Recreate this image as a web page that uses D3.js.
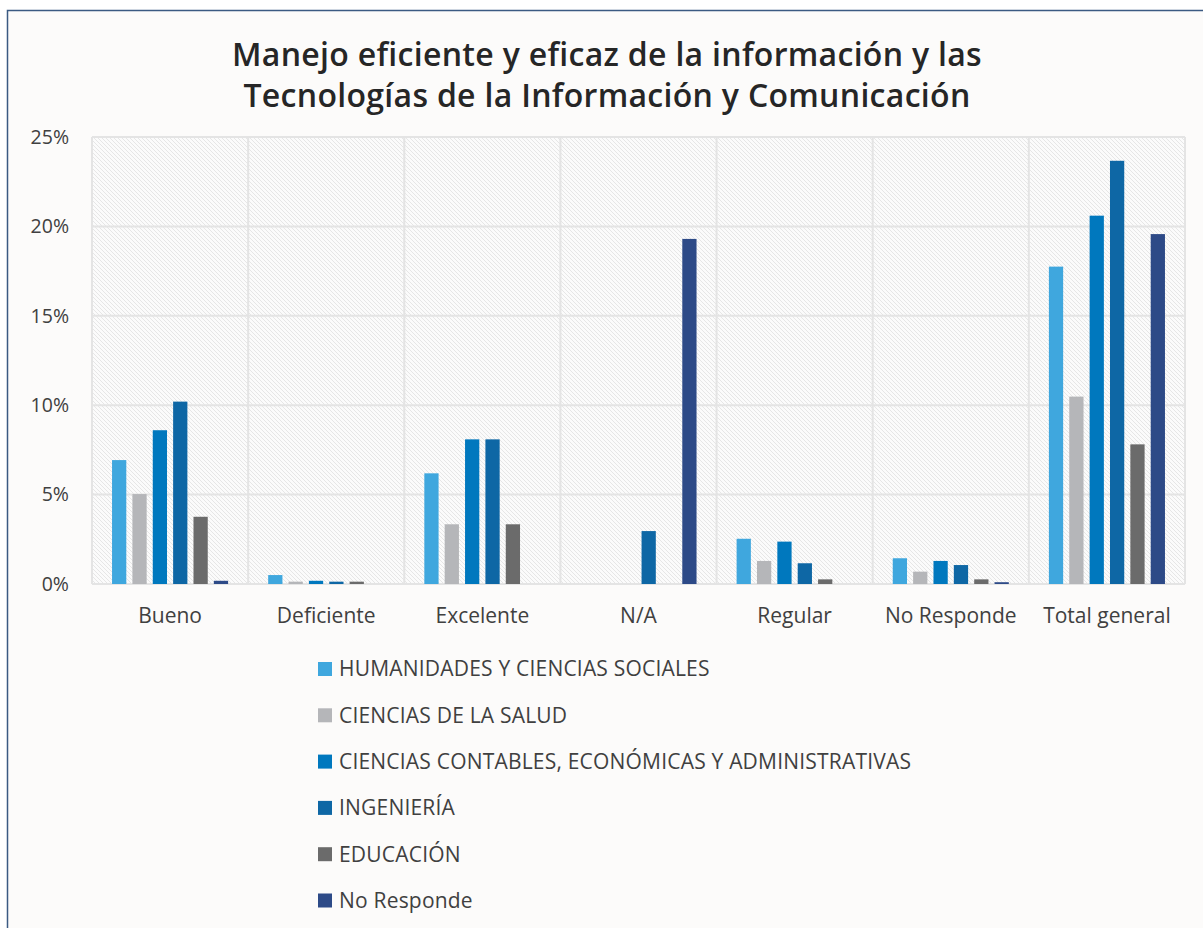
<!DOCTYPE html>
<html>
<head>
<meta charset="utf-8">
<script src="https://cdn.jsdelivr.net/npm/d3@7"></script>
<style>
  body { margin: 0; background: #ffffff; }
  svg { display: block; }
</style>
</head>
<body>
<div id="chart"></div>
<script>
// Chart data
const categories = ["Bueno", "Deficiente", "Excelente", "N/A", "Regular", "No Responde", "Total general"];
const seriesNames = [
  "HUMANIDADES Y CIENCIAS SOCIALES",
  "CIENCIAS DE LA SALUD",
  "CIENCIAS CONTABLES, ECONÓMICAS Y ADMINISTRATIVAS",
  "INGENIERÍA",
  "EDUCACIÓN",
  "No Responde"
];
// values in percent, one array per series, ordered like categories (null = no bar)
const humanidades = [6.93, 0.50, 6.19, null, 2.53, 1.44, 17.75];
const salud       = [5.03, 0.13, 3.34, null, 1.29, 0.69, 10.48];
const contables   = [8.60, 0.18, 8.09, null, 2.37, 1.29, 20.60];
const ingenieria  = [10.2, 0.13, 8.09, 2.96, 1.16, 1.06, 23.67];
const educacion   = [3.76, 0.13, 3.34, null, 0.26, 0.26, 7.81];
const noResponde  = [0.18, null, null, 19.3, null, 0.10, 19.57];
const yTicks = [0, 5, 10, 15, 20, 25];
const titleLines = [
  "Manejo eficiente y eficaz de la información y las",
  "Tecnologías de la Información y Comunicación"
];

const seriesValues = [humanidades, salud, contables, ingenieria, educacion, noResponde];
const colors = ["#3fa7de", "#b5b6b9", "#0078be", "#0e67a5", "#6b6b6b", "#2d4a87"];

const W = 1203, H = 928;
const plot = { left: 92, right: 1185, top: 137, bottom: 584 };
const font = "'Open Sans', 'Noto Sans', sans-serif";

const svg = d3.select("#chart").append("svg")
  .attr("width", W)
  .attr("height", H);

// Hatch pattern for the plot area
const defs = svg.append("defs");
const pat = defs.append("pattern")
  .attr("id", "hatch")
  .attr("patternUnits", "userSpaceOnUse")
  .attr("width", 4)
  .attr("height", 4);
pat.append("rect").attr("width", 4).attr("height", 4).attr("fill", "#fbfbfb");
pat.append("path")
  .attr("d", "M-1,-1 L5,5 M-1,3 L1,5 M3,-1 L5,1")
  .attr("stroke", "#e6e6e6")
  .attr("stroke-width", 1);

// Chart background and frame
svg.append("rect")
  .attr("x", 0).attr("y", 0).attr("width", W).attr("height", H)
  .attr("fill", "#ffffff");
svg.append("rect")
  .attr("x", 7.5).attr("y", 10.5).attr("width", W).attr("height", H)
  .attr("fill", "#fcfbfa")
  .attr("stroke", "#3b5a82")
  .attr("stroke-width", 1.5);

// Scales
const x0 = d3.scaleBand()
  .domain(categories)
  .range([plot.left, plot.right])
  .padding(0);

const x1 = d3.scaleBand()
  .domain(d3.range(seriesNames.length))
  .range([18, x0.bandwidth() - 18])
  .paddingInner(0.3)
  .paddingOuter(0.1);

const y = d3.scaleLinear()
  .domain([0, 25])
  .range([plot.bottom, plot.top]);

// Plot area
svg.append("rect")
  .attr("x", plot.left).attr("y", plot.top)
  .attr("width", plot.right - plot.left)
  .attr("height", plot.bottom - plot.top)
  .attr("fill", "url(#hatch)");

// Horizontal gridlines
svg.append("g")
  .selectAll("line")
  .data(yTicks)
  .enter()
  .append("line")
  .attr("x1", plot.left).attr("x2", plot.right)
  .attr("y1", d => y(d)).attr("y2", d => y(d))
  .attr("stroke", "#e4e4e4")
  .attr("stroke-width", 2);

// Vertical gridlines at category boundaries
svg.append("g")
  .selectAll("line")
  .data(categories.map(c => x0(c)).concat([plot.right]))
  .enter()
  .append("line")
  .attr("x1", d => d).attr("x2", d => d)
  .attr("y1", plot.top).attr("y2", plot.bottom)
  .attr("stroke", "#e4e4e4")
  .attr("stroke-width", 2);

// Bars
const groups = svg.append("g")
  .selectAll("g")
  .data(categories)
  .enter()
  .append("g")
  .attr("transform", c => `translate(${x0(c)},0)`);

groups.selectAll("rect")
  .data((c, ci) => seriesValues.map((vals, si) => ({ si, v: vals[ci] })).filter(d => d.v != null))
  .enter()
  .append("rect")
  .attr("x", d => x1(d.si))
  .attr("width", x1.bandwidth())
  .attr("y", d => y(d.v))
  .attr("height", d => y(0) - y(d.v))
  .attr("fill", d => colors[d.si]);

// Y axis labels
const yAxis = svg.append("g")
  .attr("transform", `translate(${plot.left - 23},0)`)
  .call(d3.axisLeft(y).tickValues(yTicks).tickFormat(d => d + "%").tickSize(0).tickPadding(0));
yAxis.select(".domain").remove();
yAxis.selectAll("text")
  .attr("font-family", font)
  .attr("font-size", 19.5)
  .attr("fill", "#404040");

// X axis labels
const xAxis = svg.append("g")
  .attr("transform", `translate(0,${plot.bottom})`)
  .call(d3.axisBottom(x0).tickSize(0).tickPadding(24));
xAxis.select(".domain").remove();
xAxis.selectAll("text")
  .attr("font-family", font)
  .attr("font-size", 21)
  .attr("fill", "#404040");

// Title, one text per line
svg.append("g")
  .selectAll("text")
  .data(titleLines)
  .enter()
  .append("text")
  .attr("x", 607)
  .attr("y", (d, i) => 55 + i * 41)
  .attr("dy", "0.35em")
  .attr("text-anchor", "middle")
  .attr("font-family", font)
  .attr("font-size", 32)
  .attr("font-weight", 600)
  .attr("letter-spacing", 0.3)
  .attr("fill", "#262626")
  .text(d => d);

// Legend
const legend = svg.append("g")
  .selectAll("g")
  .data(seriesNames)
  .enter()
  .append("g")
  .attr("transform", (d, i) => `translate(318,${669 + i * 46.3})`);

legend.append("rect")
  .attr("x", 0).attr("y", -7)
  .attr("width", 14).attr("height", 14)
  .attr("fill", (d, i) => colors[i]);

legend.append("text")
  .attr("x", 21)
  .attr("y", 0)
  .attr("dy", "0.35em")
  .attr("font-family", font)
  .attr("font-size", 21)
  .attr("letter-spacing", 0.2)
  .attr("fill", "#404040")
  .text(d => d);
</script>
</body>
</html>
